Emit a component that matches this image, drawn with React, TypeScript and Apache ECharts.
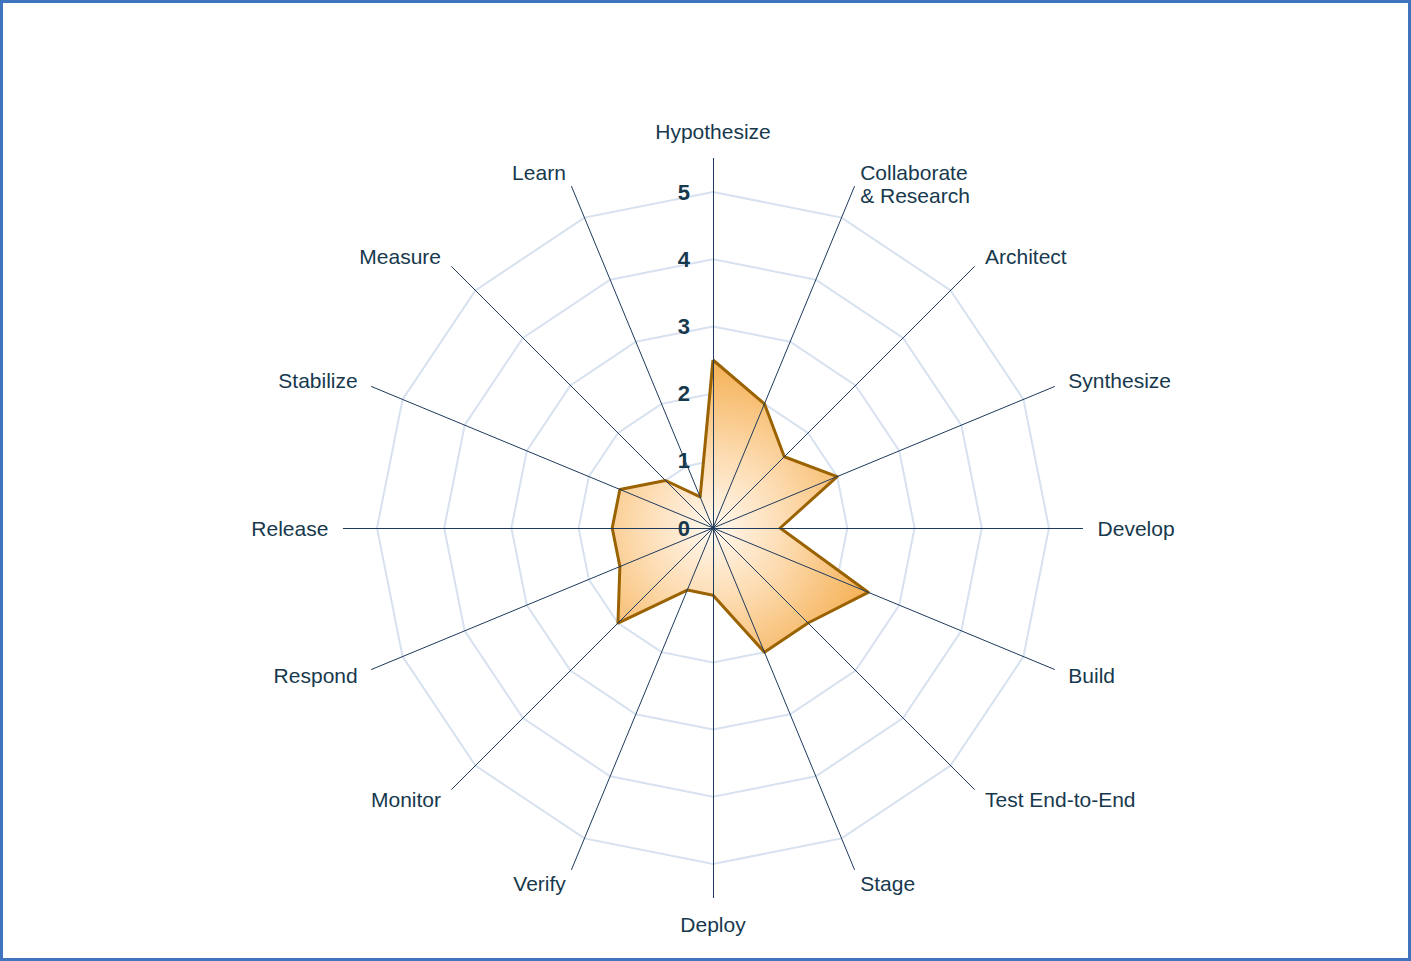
import React, { useEffect, useRef } from "react";
import * as echarts from "echarts";

// Indicators in clockwise order starting at the top
const categories: string[] = [
  "Hypothesize",
  "\nCollaborate\n& Research",
  "Architect",
  "Synthesize",
  "Develop",
  "Build",
  "Test End-to-End",
  "Stage",
  "Deploy",
  "Verify",
  "Monitor",
  "Respond",
  "Release",
  "Stabilize",
  "Measure",
  "Learn",
];

const values: number[] = [2.5, 2, 1.5, 2, 1, 2.5, 2, 2, 1, 1, 2, 1.5, 1.5, 1.5, 1, 0.5];

const axisMax = 5;
const axisLineMax = 5.5;
const tickLabels: string[] = ["0", "1", "2", "3", "4", "5"];

// ECharts draws radar indicators counter-clockwise; reorder so they appear clockwise
function toCCW<T>(arr: T[]): T[] {
  return [arr[0], ...arr.slice(1).reverse()];
}

export default function App() {
  const ref = useRef<HTMLDivElement>(null);

  useEffect(() => {
    document.body.style.margin = "0";
    if (!ref.current) return;
    const chart = echarts.init(ref.current, undefined, { renderer: "svg" });
    const cx = 713;
    const cy = 528;
    const unit = 67.2;
    const radiusA = unit * axisMax;
    const radiusB = unit * axisLineMax;
    const cats = toCCW(categories);
    const vals = toCCW(values);
    const textColor = "#17394d";

    const tickFont = { fontSize: 22, fontWeight: "bold", fontFamily: "Liberation Sans", color: textColor };
    const tickLabelStyle = {
      ...tickFont,
      margin: 23,
      showMinLabel: true,
      showMaxLabel: false,
      hideOverlap: false,
      textStyle: tickFont,
      formatter: (v: any) => {
        const n = Number(v);
        return Number.isInteger(n) ? tickLabels[n] ?? "" : "";
      },
    };

    const option = {
      animation: false,
      backgroundColor: "#ffffff",
      radar: [
        {
          center: [cx, cy],
          radius: radiusA,
          startAngle: 90,
          splitNumber: 5,
          shape: "polygon",
          indicator: cats.map(() => ({ name: "", min: 0, max: axisMax })),
          axisName: { show: false },
          axisLine: { show: false },
          axisTick: { show: false },
          axisLabel: { show: false },
          splitArea: { show: false },
          splitLine: { show: true, lineStyle: { color: "#d7e1ef", width: 2 } },
          z: 0,
        },
        {
          center: [cx, cy],
          radius: radiusB,
          startAngle: 90,
          splitNumber: 11,
          shape: "polygon",
          nameGap: 15,
          indicator: cats.map((c, i) =>
            i === 0
              ? { name: c, min: 0, max: axisLineMax, axisLabel: { show: true, ...tickLabelStyle } }
              : { name: c, min: 0, max: axisLineMax }
          ),
          axisName: {
            show: true,
            color: textColor,
            fontFamily: "Liberation Sans",
            fontSize: 21,
            lineHeight: 23,
          },
          axisLine: { show: true, lineStyle: { color: "#1f3a5c", width: 1 } },
          axisTick: { show: false },
          axisLabel: { show: false, ...tickLabelStyle },
          splitArea: { show: false },
          splitLine: { show: false },
          z: 10,
        },
      ],
      series: [
        {
          type: "radar",
          radarIndex: 0,
          symbol: "none",
          lineStyle: { width: 0, opacity: 0 },
          areaStyle: {
            opacity: 1,
            color: new echarts.graphic.RadialGradient(
              cx,
              cy,
              radiusA * 0.48,
              [
                { offset: 0, color: "#fff8ef" },
                { offset: 0.45, color: "#fddcb2" },
                { offset: 1, color: "#f5b35b" },
              ],
              true
            ),
          },
          data: [{ value: vals, name: "Score" }],
          z: 2,
        },
        {
          type: "radar",
          radarIndex: 0,
          symbol: "none",
          lineStyle: { color: "#9a6200", width: 3 },
          data: [{ value: vals, name: "Score" }],
          z: 3,
        },
      ],
    };

    chart.setOption(option as any);
    return () => chart.dispose();
  }, []);

  return (
    <div
      style={{
        position: "fixed",
        left: 0,
        top: 0,
        width: 1411,
        height: 961,
        background: "#fff",
      }}
    >
      <div
        ref={ref}
        style={{ position: "absolute", left: 0, top: 0, width: 1411, height: 961 }}
      />
      <div
        style={{
          position: "absolute",
          left: 0,
          top: 0,
          width: 1411,
          height: 961,
          boxSizing: "border-box",
          border: "3px solid #4174bf",
          pointerEvents: "none",
        }}
      />
    </div>
  );
}
